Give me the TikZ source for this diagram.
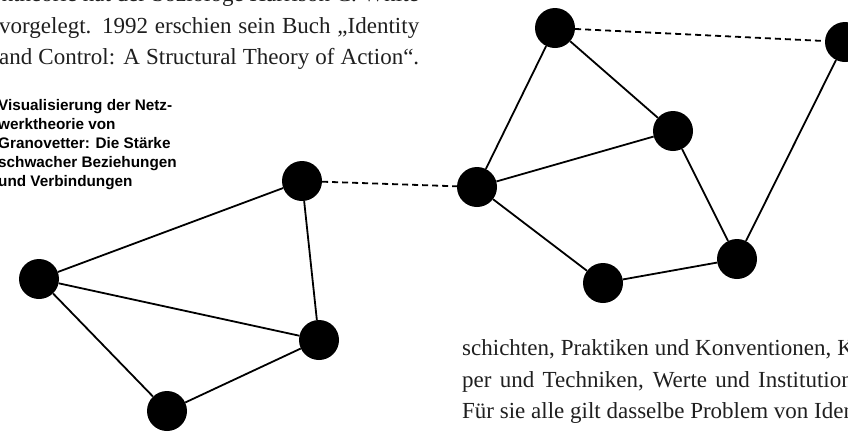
\documentclass[tikz,border=0pt]{standalone}
\usepackage{fontspec}
\setmainfont{Liberation Serif}
\newfontfamily\capfont{Liberation Sans}
\begin{document}
\begin{tikzpicture}[x=1pt,y=-1pt,
  dot/.style={circle,fill=black,minimum size=40pt,inner sep=0pt},
  edge/.style={line width=1.8pt,black},
  weak/.style={line width=1.8pt,black,dash pattern=on 6pt off 4pt},
  bodytext/.style={inner sep=0pt,anchor=base west,text=black!88,font=\fontsize{23}{32}\selectfont},
  captext/.style={inner sep=0pt,anchor=base west,text=black,font=\capfont\bfseries\fontsize{15.3}{19}\selectfont}]
\useasboundingbox (0,0) rectangle (848,432);
\clip (0,0) rectangle (848,432);
% body text, left column
\node[bodytext,anchor=base east] (t1) at (419,1) {Netzwerktheorie hat der Soziologe Harrison C. White};
\node[bodytext] (t2) at (-1,33) {\hbox to 420pt{vorgelegt. 1992 erschien sein Buch „Identity}};
\node[bodytext] (t3) at (-1,64.5) {\hbox to 420pt{and Control: A Structural Theory of Action“.}};
% body text, right column
\node[bodytext] (r1) at (462,355) {\hbox to 418pt{schichten, Praktiken und Konventionen, Kör-}};
\node[bodytext] (r2) at (462,387) {\hbox to 418pt{per und Techniken, Werte und Institutionen.}};
\node[bodytext] (r3) at (462,418.5) {Für sie alle gilt dasselbe Problem von Identität};
% caption
\node[captext] (c1) at (-2,110) {Visualisierung der Netz-};
\node[captext] (c2) at (-2,129) {werktheorie von};
\node[captext] (c3) at (-2,148) {Granovetter: Die Stärke};
\node[captext] (c4) at (-2,167) {schwacher Beziehungen};
\node[captext] (c5) at (-2,186) {und Verbindungen};
% right cluster
\node[dot] (A) at (555,28) {};
\node[dot] (B) at (845,42) {};
\node[dot] (C) at (673,131) {};
\node[dot] (D) at (477,187) {};
\node[dot] (E) at (737,259) {};
\node[dot] (F) at (603,283) {};
% left cluster
\node[dot] (G) at (302,181) {};
\node[dot] (H) at (39,279) {};
\node[dot] (I) at (319,340) {};
\node[dot] (J) at (167,411) {};
% strong ties
\draw[edge] (A) -- (D);
\draw[edge] (A) -- (C);
\draw[edge] (C) -- (D);
\draw[edge] (C) -- (E);
\draw[edge] (B) -- (E);
\draw[edge] (D) -- (F);
\draw[edge] (F) -- (E);
\draw[edge] (G) -- (H);
\draw[edge] (G) -- (I);
\draw[edge] (H) -- (I);
\draw[edge] (H) -- (J);
\draw[edge] (I) -- (J);
% weak ties
\draw[weak] (A) -- (B);
\draw[weak] (G) -- (D);
\end{tikzpicture}
\end{document}
